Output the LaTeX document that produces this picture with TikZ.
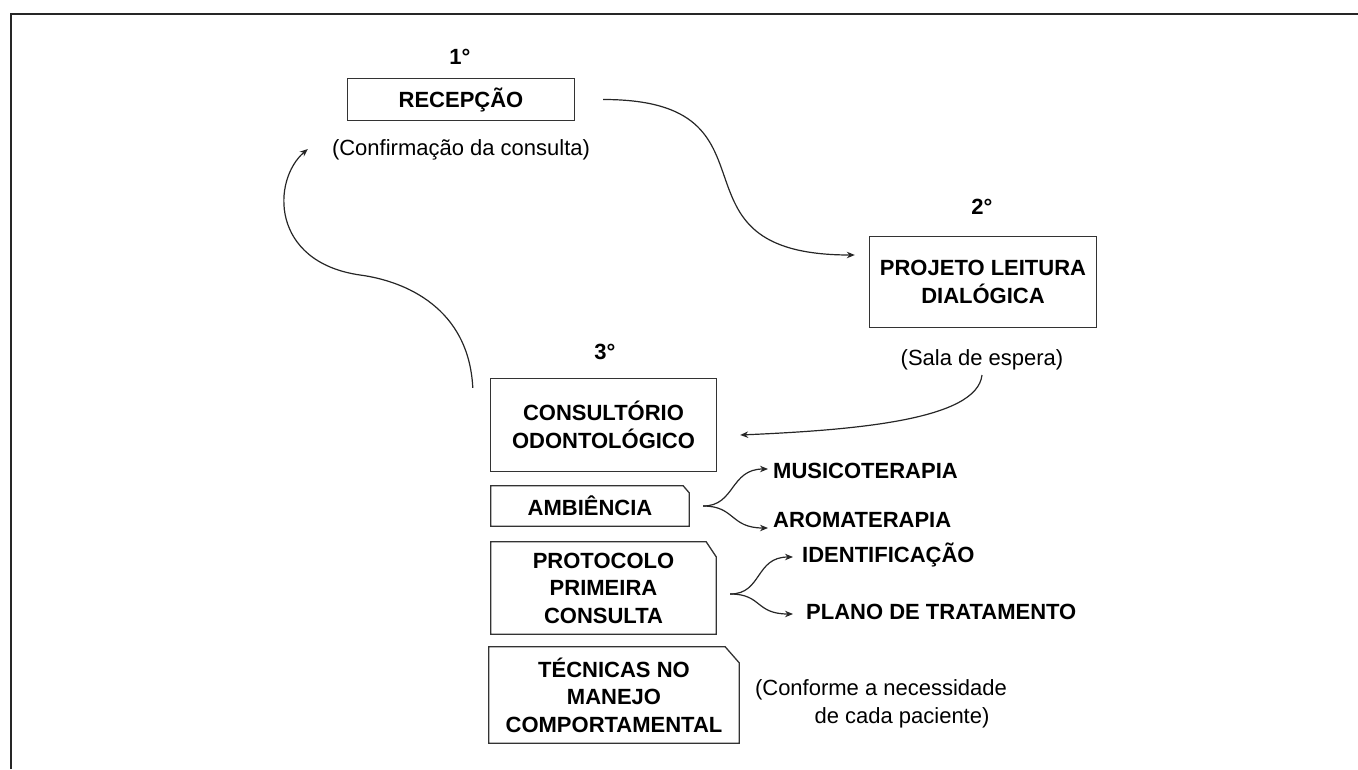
\documentclass[tikz,border=0pt]{standalone}
\usepackage{fontspec}
\setmainfont{Liberation Sans}
\usetikzlibrary{arrows.meta}
\begin{document}
\begin{tikzpicture}[x=1pt,y=-1pt,
  every node/.style={font=\fontsize{22}{27.5}\selectfont, inner sep=0pt},
  boxn/.style={align=center, font=\fontsize{22}{27.5}\selectfont\bfseries},
  boxline/.style={line width=1.3pt, draw=black!80},
  lbl/.style={align=center},
  blbl/.style={font=\fontsize{22}{27.5}\selectfont\bfseries},
  conn/.style={line width=1.2pt, draw=black!85, -{Stealth[length=8pt,width=6.5pt]}}
]
\useasboundingbox (0,0) rectangle (1358,769);
% frame
\draw[line width=2pt, black!85] (10.5,769) -- (10.5,13.5) -- (1358,13.5);

% 1
\node[blbl] (n1) at (460,57) {1°};
\node[boxn, minimum width=226pt, minimum height=41pt] (recep) at (461,99.5) {RECEPÇÃO};
\draw[boxline] (recep.north west) rectangle (recep.south east);
\node[lbl] (confirm) at (461,150) {(Confirmação da consulta)};

% 2
\node[blbl] (n2) at (982,207) {2°};
\node[boxn, minimum width=226pt, minimum height=90pt] (proj) at (983,282) {PROJETO LEITURA\\DIALÓGICA};
\draw[boxline] (proj.north west) rectangle (proj.south east);
\node[lbl] (sala) at (982,360) {(Sala de espera)};

% 3
\node[blbl] (n3) at (605,352) {3°};
\node[boxn, minimum width=225pt, minimum height=92pt] (consult) at (603.5,425) {CONSULTÓRIO\\ODONTOLÓGICO};
\draw[boxline] (consult.north west) rectangle (consult.south east);

\node[boxn, minimum width=198pt, minimum height=40pt] (amb) at (590,506) {AMBIÊNCIA};
\draw[boxline] (amb.north west) -- ([xshift=-6pt]amb.north east) -- ([yshift=-7pt]amb.north east) -- (amb.south east) -- (amb.south west) -- cycle;

\node[boxn, minimum width=225pt, minimum height=92pt] (proto) at (603.5,588) {PROTOCOLO\\PRIMEIRA\\CONSULTA};
\draw[boxline] (proto.north west) -- ([xshift=-10pt]proto.north east) -- ([yshift=-15pt]proto.north east) -- (proto.south east) -- (proto.south west) -- cycle;

\node[boxn, minimum width=250pt, minimum height=96pt] (tec) at (614,695) {TÉCNICAS NO\\MANEJO\\COMPORTAMENTAL};
\draw[boxline] (tec.north west) -- ([xshift=-14pt]tec.north east) -- ([yshift=-16pt]tec.north east) -- (tec.south east) -- (tec.south west) -- cycle;

\node[lbl] (conf1) at (881,690) {(Conforme a necessidade};
\node[lbl] (conf2) at (902,718) {de cada paciente)};

% branch labels
\node[blbl, anchor=west] (musico) at (773,471) {MUSICOTERAPIA};
\node[blbl, anchor=west] (aroma) at (773,520) {AROMATERAPIA};
\node[blbl, anchor=west] (ident) at (802,555) {IDENTIFICAÇÃO};
\node[blbl, anchor=west] (plano) at (806,612) {PLANO DE TRATAMENTO};

% main connectors
\draw[conn] ([xshift=29pt]recep.east) .. controls +(190,0) and +(-200,0) .. ([xshift=-15pt,yshift=27pt]proj.west);
\draw[conn] ([yshift=-15pt]sala.center) .. controls +(-5,45) and +(115,-5) .. ([xshift=24pt,yshift=-10pt]consult.east);
\draw[conn] ([xshift=-18pt,yshift=-9pt]consult.north west) .. controls +(-4,-80) and +(45,6) .. (360,275) .. controls +(-90,-13) and +(-36,31) .. ([xshift=-24pt,yshift=1pt]confirm.west);

% branches
\draw[conn] ([xshift=14pt]amb.east) .. controls +(32,0) and +(-38,0) .. ([xshift=-5pt,yshift=2pt]musico.west);
\draw[conn] ([xshift=14pt]amb.east) .. controls +(32,0) and +(-38,0) .. ([xshift=-5pt,yshift=-8pt]aroma.west);
\draw[conn] ([xshift=14pt,yshift=-6pt]proto.east) .. controls +(32,0) and +(-38,0) .. ([xshift=-9pt,yshift=-2pt]ident.west);
\draw[conn] ([xshift=14pt,yshift=-6pt]proto.east) .. controls +(32,0) and +(-38,0) .. ([xshift=-13pt,yshift=-2pt]plano.west);
\end{tikzpicture}
\end{document}
